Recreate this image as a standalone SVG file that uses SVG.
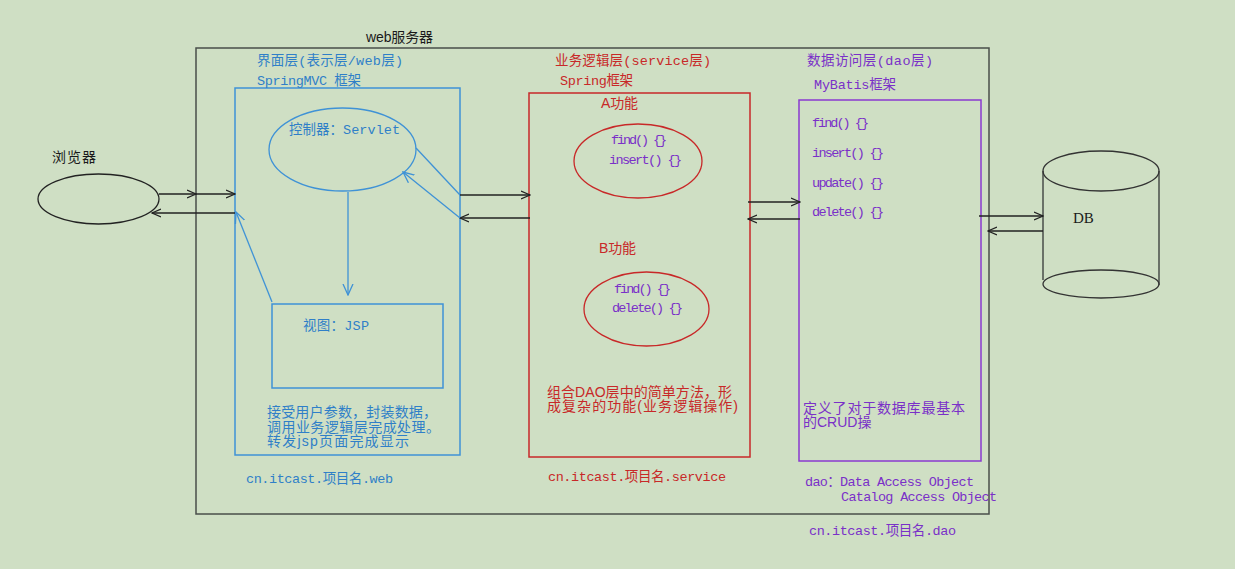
<svg xmlns="http://www.w3.org/2000/svg" width="1235" height="569" viewBox="0 0 1235 569">
<defs>
<style>
.mono{font-family:"Liberation Mono","Noto Sans CJK SC",monospace;font-size:13.5px}
.sans{font-family:"Liberation Sans","Noto Sans CJK SC",sans-serif;font-size:14px}
.blk{fill:#1a1a1a}
.blu{fill:#2f7fc8}
.red{fill:#c82828}
.pur{fill:#7a30c8}
.lk{stroke:#222;stroke-width:1.3;fill:none}
.lb{stroke:#3f92d6;stroke-width:1.3;fill:none}
</style>
<marker id="ak" viewBox="0 0 10 10" refX="9" refY="5" markerWidth="10" markerHeight="10" markerUnits="userSpaceOnUse" orient="auto">
<path d="M0,1 L9,5 L0,9" fill="none" stroke="#222" stroke-width="1.2"/>
</marker>
<marker id="ab" viewBox="0 0 12 12" refX="11" refY="6" markerWidth="12" markerHeight="12" markerUnits="userSpaceOnUse" orient="auto">
<path d="M0,1 L11,6 L0,11" fill="none" stroke="#3f92d6" stroke-width="1.3"/>
</marker>
</defs>
<rect width="1235" height="569" fill="#cfdfc4"/>

<g id="webserver">
<rect x="196" y="48" width="793" height="466" fill="none" stroke="#4a4f4a" stroke-width="1.5"/>
<text class="sans blk" x="366" y="42" textLength="67">web服务器</text>
</g>

<g id="browser">
<ellipse cx="98.5" cy="199" rx="60.5" ry="25" fill="none" stroke="#222" stroke-width="1.3"/>
<text class="sans blk" x="52" y="162" textLength="44">浏览器</text>
</g>

<g id="web-layer">
<rect x="235" y="88" width="225" height="367" fill="none" stroke="#3f92d6" stroke-width="1.5"/>
<text class="mono blu" x="257" y="65" textLength="146">界面层(表示层/web层)</text>
<text class="mono blu" x="257" y="85" textLength="104">SpringMVC 框架</text>
<text class="sans blu" x="267" y="417" textLength="170">接受用户参数，封装数据，</text>
<text class="sans blu" x="267" y="432" textLength="173">调用业务逻辑层完成处理。</text>
<text class="sans blu" x="267" y="446" textLength="142">转发jsp页面完成显示</text>
<text class="mono blu" x="246" y="483" textLength="147">cn.itcast.项目名.web</text>
</g>

<g id="controller">
<ellipse cx="342.5" cy="149.5" rx="73.5" ry="41.5" fill="none" stroke="#3f92d6" stroke-width="1.3"/>
<text class="mono blu" x="289" y="134" textLength="111">控制器：Servlet</text>
</g>

<g id="jsp">
<rect x="272" y="304" width="171" height="84" fill="none" stroke="#3f92d6" stroke-width="1.5"/>
<text class="mono blu" x="303" y="330" textLength="66">视图：JSP</text>
</g>

<g id="service-layer">
<rect x="529" y="93" width="221" height="364" fill="none" stroke="#c82828" stroke-width="1.5"/>
<text class="mono red" x="555" y="65" textLength="156">业务逻辑层(service层)</text>
<text class="mono red" x="560" y="85" textLength="73">Spring框架</text>
<text class="sans red" x="547" y="397" textLength="185">组合DAO层中的简单方法，形</text>
<text class="sans red" x="547" y="411" textLength="191">成复杂的功能(业务逻辑操作)</text>
<text class="mono red" x="548" y="481" textLength="178">cn.itcast.项目名.service</text>
</g>

<g id="func-a">
<text class="sans red" x="601" y="108" textLength="37">A功能</text>
<ellipse cx="638" cy="161" rx="64" ry="37" fill="none" stroke="#c82828" stroke-width="1.3"/>
<text class="mono pur" x="611" y="144" textLength="56">find() {}</text>
<text class="mono pur" x="609" y="164" textLength="73">insert() {}</text>
</g>

<g id="func-b">
<text class="sans red" x="599" y="253" textLength="37">B功能</text>
<ellipse cx="646.5" cy="309" rx="62.5" ry="37" fill="none" stroke="#c82828" stroke-width="1.3"/>
<text class="mono pur" x="614" y="293" textLength="57">find() {}</text>
<text class="mono pur" x="612" y="312" textLength="71">delete() {}</text>
</g>

<g id="dao-layer">
<rect x="799" y="100" width="182" height="361" fill="none" stroke="#8a3ad0" stroke-width="1.5"/>
<text class="mono pur" x="807" y="65" textLength="126">数据访问层(dao层)</text>
<text class="mono pur" x="814" y="89" textLength="82">MyBatis框架</text>
<text class="mono pur" x="812" y="127" textLength="57">find() {}</text>
<text class="mono pur" x="812" y="157" textLength="72">insert() {}</text>
<text class="mono pur" x="812" y="187" textLength="72">update() {}</text>
<text class="mono pur" x="812" y="216" textLength="72">delete() {}</text>
<text class="sans pur" x="803" y="413" textLength="162">定义了对于数据库最基本</text>
<text class="sans pur" x="803" y="427">的CRUD操</text>
<text class="mono pur" x="805" y="486" textLength="169">dao：Data Access Object</text>
<text class="mono pur" x="841" y="501" textLength="156">Catalog Access Object</text>
<text class="mono pur" x="809" y="535" textLength="147">cn.itcast.项目名.dao</text>
</g>

<g id="db">
<path d="M1043,171 L1043,280 M1159,171 L1159,285" fill="none" stroke="#4a4f4a" stroke-width="1.5"/>
<ellipse cx="1101" cy="171" rx="58" ry="20" fill="none" stroke="#333" stroke-width="1.3"/>
<ellipse cx="1101" cy="284" rx="58" ry="14" fill="none" stroke="#333" stroke-width="1.3"/>
<text x="1073" y="223" font-family="Liberation Serif, serif" font-size="15" class="blk">DB</text>
</g>

<g id="connectors">
<line class="lk" x1="159" y1="194" x2="196" y2="194" marker-end="url(#ak)"/>
<line class="lk" x1="196" y1="194" x2="235" y2="194" marker-end="url(#ak)"/>
<line class="lk" x1="235" y1="213" x2="152" y2="213" marker-end="url(#ak)"/>
<line class="lb" x1="416" y1="148" x2="460" y2="195"/>
<line class="lk" x1="460" y1="195" x2="530" y2="195" marker-end="url(#ak)"/>
<line class="lk" x1="530" y1="218" x2="460" y2="218" marker-end="url(#ak)"/>
<line class="lb" x1="460" y1="218" x2="403" y2="172" marker-end="url(#ab)"/>
<line class="lb" x1="348" y1="192" x2="348" y2="295" marker-end="url(#ab)"/>
<line class="lb" x1="272" y1="302" x2="236" y2="212" marker-end="url(#ab)"/>
<line class="lk" x1="748" y1="202" x2="800" y2="202" marker-end="url(#ak)"/>
<line class="lk" x1="800" y1="219" x2="748" y2="219" marker-end="url(#ak)"/>
<line class="lk" x1="979" y1="216" x2="1043" y2="216" marker-end="url(#ak)"/>
<line class="lk" x1="1043" y1="231" x2="988" y2="231" marker-end="url(#ak)"/>
</g>
</svg>
